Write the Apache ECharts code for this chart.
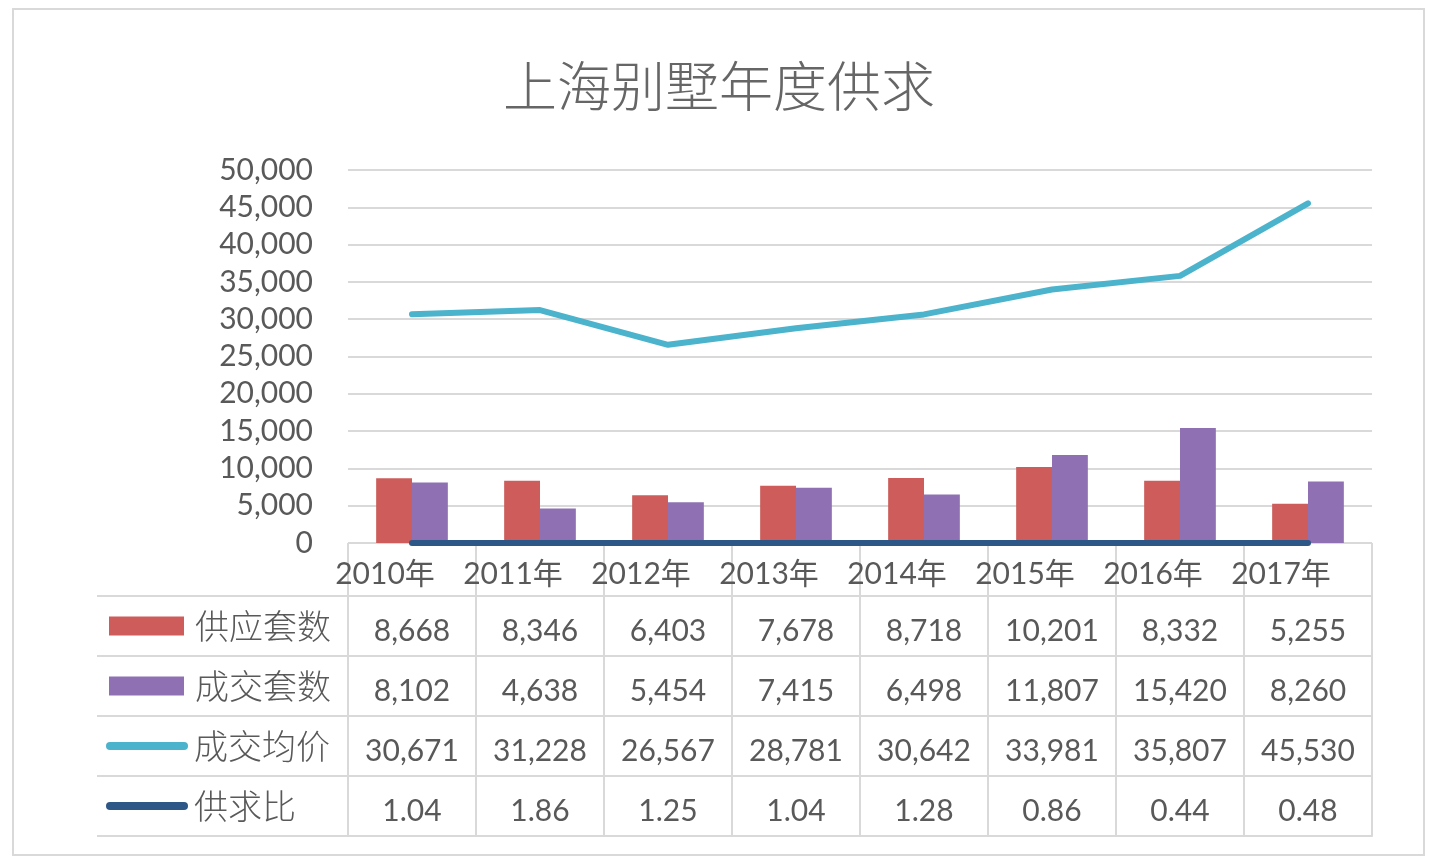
<!DOCTYPE html>
<html>
<head>
<meta charset="utf-8">
<title>上海别墅年度供求</title>
<script src="https://cdn.jsdelivr.net/npm/echarts@6/dist/echarts.min.js"></script>
<style>
  html, body { margin: 0; padding: 0; background: #fff; }
  #chart { width: 1438px; height: 866px; }
</style>
</head>
<body>
<div id="chart"></div>
<script>
  /** Data */
  var years = ['2010年', '2011年', '2012年', '2013年', '2014年', '2015年', '2016年', '2017年'];
  var supply = [8668, 8346, 6403, 7678, 8718, 10201, 8332, 5255];
  var deals = [8102, 4638, 5454, 7415, 6498, 11807, 15420, 8260];
  var price = [30671, 31228, 26567, 28781, 30642, 33981, 35807, 45530];
  var ratio = [1.04, 1.86, 1.25, 1.04, 1.28, 0.86, 0.44, 0.48];
  var seriesNames = ['供应套数', '成交套数', '成交均价', '供求比'];

  var colors = ['#cd5c5a', '#8f71b3', '#4bb3cc', '#2d5786'];
  var textColor = '#595959';
  var lineGray = '#d9d9d9';
  var numFont = 'Lato, "Noto Sans CJK SC", sans-serif';
  var cjkFont = '"Noto Sans CJK SC", Lato, sans-serif';

  /** Table cells: [column, row] */
  var rows = [supply, deals, price, ratio];
  var cells = [];
  rows.forEach(function(row, r) {
    row.forEach(function(v, i) {
      cells.push([i, r]);
    });
  });

  function cellText(i, r) {
    var v = rows[r][i];
    return r === 3 ? v.toFixed(2) : v.toLocaleString('en-US');
  }

  var keyRich = {
    k0: { width: 75, height: 19, backgroundColor: colors[0], verticalAlign: 'middle' },
    k1: { width: 75, height: 19, backgroundColor: colors[1], verticalAlign: 'middle' },
    k2: { width: 82, height: 8, borderRadius: 4, backgroundColor: colors[2], verticalAlign: 'middle' },
    k3: { width: 82, height: 8, borderRadius: 4, backgroundColor: colors[3], verticalAlign: 'middle' },
    sp: { width: 3 },
    gapA: { width: 11 },
    gapB: { width: 6 },
    t: { fontSize: 34, color: textColor, fontFamily: cjkFont, fontWeight: 300, verticalAlign: 'middle', lineHeight: 42 }
  };

  var option = {
    backgroundColor: '#fff',
    animation: false,
    title: {
      text: '上海别墅年度供求',
      left: 'center',
      top: 54,
      textStyle: {
        fontSize: 54,
        fontWeight: 300,
        color: '#666666',
        fontFamily: cjkFont
      }
    },
    graphic: [{
      type: 'rect',
      shape: { x: 13, y: 9, width: 1411, height: 846 },
      style: { fill: 'none', stroke: lineGray, lineWidth: 2 },
      silent: true
    }],
    grid: [
      { left: 348, top: 170, width: 1024, height: 373 },
      { left: 348, top: 596, width: 1024, height: 240 }
    ],
    xAxis: [{
      type: 'category',
      gridIndex: 0,
      data: years,
      axisLine: { show: false },
      axisTick: {
        show: true, inside: false, length: 53, interval: 0,
        lineStyle: { color: lineGray, width: 2 }
      },
      axisLabel: {
        interval: 0,
        margin: 14,
        fontSize: 30,
        lineHeight: 34,
        color: textColor,
        fontFamily: numFont,
        padding: [0, 54, 0, 0]
      }
    }, {
      type: 'category',
      gridIndex: 1,
      data: years,
      axisLine: { show: true, lineStyle: { color: lineGray, width: 2 } },
      axisTick: { show: false },
      axisLabel: { show: false },
      splitLine: { show: true, interval: 0, lineStyle: { color: lineGray, width: 2 } }
    }],
    yAxis: [{
      type: 'value',
      gridIndex: 0,
      min: 0,
      max: 50000,
      interval: 5000,
      axisLine: { show: false },
      axisTick: { show: false },
      axisLabel: {
        margin: 35,
        fontSize: 30,
        lineHeight: 30,
        color: textColor,
        fontFamily: numFont,
        padding: [6, 0, 0, 0],
        formatter: function(v) { return v.toLocaleString('en-US'); }
      },
      splitLine: { lineStyle: { color: lineGray, width: 2 } }
    }, {
      type: 'category',
      gridIndex: 1,
      inverse: true,
      data: seriesNames,
      axisLine: { show: false },
      axisTick: {
        show: true, inside: false, length: 251, interval: 0,
        lineStyle: { color: lineGray, width: 2 }
      },
      axisLabel: {
        interval: 0,
        margin: 242,
        align: 'left',
        rich: keyRich,
        formatter: function(name, idx) {
          if (idx < 2) return '{sp|}{k' + idx + '|}{gapA|}{t|' + name + '}';
          return '{k' + idx + '|}{gapB|}{t|' + name + '}';
        }
      },
      splitLine: { show: true, interval: 0, lineStyle: { color: lineGray, width: 2 } }
    }, {
      type: 'category',
      gridIndex: 1,
      inverse: true,
      data: seriesNames,
      offset: 251,
      axisLine: { show: true, lineStyle: { color: lineGray, width: 2 } },
      axisTick: { show: false },
      axisLabel: { show: false },
      splitLine: { show: false }
    }],
    series: [{
      name: seriesNames[0],
      type: 'bar',
      xAxisIndex: 0,
      yAxisIndex: 0,
      data: supply,
      barGap: '0%',
      barCategoryGap: '44%',
      itemStyle: { color: colors[0] }
    }, {
      name: seriesNames[1],
      type: 'bar',
      xAxisIndex: 0,
      yAxisIndex: 0,
      data: deals,
      barGap: '0%',
      barCategoryGap: '44%',
      itemStyle: { color: colors[1] }
    }, {
      name: seriesNames[2],
      type: 'line',
      xAxisIndex: 0,
      yAxisIndex: 0,
      data: price,
      symbol: 'none',
      lineStyle: { color: colors[2], width: 6, cap: 'round', join: 'round' }
    }, {
      name: seriesNames[3],
      type: 'line',
      xAxisIndex: 0,
      yAxisIndex: 0,
      data: ratio,
      symbol: 'none',
      lineStyle: { color: colors[3], width: 6, cap: 'round' }
    }, {
      name: 'table',
      type: 'custom',
      xAxisIndex: 1,
      yAxisIndex: 1,
      data: cells,
      silent: true,
      renderItem: function(params, api) {
        var i = api.value(0), r = api.value(1);
        var p = api.coord([i, r]);
        return {
          type: 'text',
          x: p[0],
          y: p[1] + 5,
          style: {
            text: cellText(i, r),
            align: 'center',
            verticalAlign: 'middle',
            fontSize: 30,
            fontFamily: numFont,
            fill: textColor
          }
        };
      }
    }]
  };

  echarts.init(document.getElementById('chart')).setOption(option);
</script>
</body>
</html>
